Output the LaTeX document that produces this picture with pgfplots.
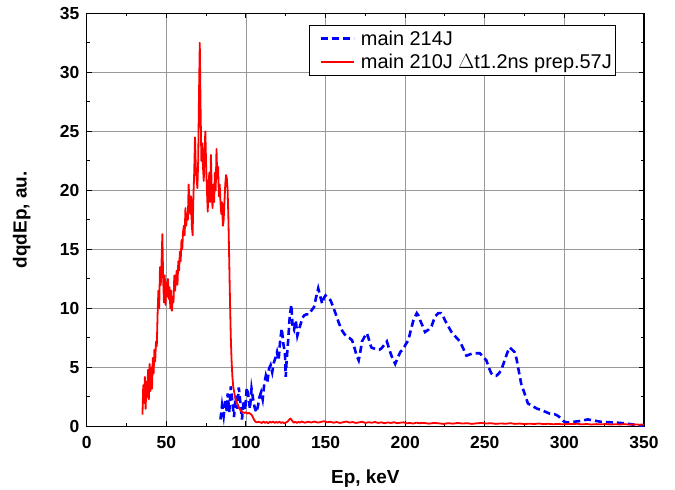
\documentclass[border=0pt]{standalone}
\usepackage{pgfplots}
\pgfplotsset{compat=1.18}
\usepackage{fontspec}
\setmainfont{Liberation Sans}
\begin{document}
\begin{tikzpicture}
\useasboundingbox (-86.7bp,-62.7bp) rectangle (588bp,426.3bp);
\begin{axis}[
 at={(0,0)}, anchor=south west,
 scale only axis, width=557bp, height=413bp,
 xmin=0, xmax=350, ymin=0, ymax=35,
 xtick={0,50,...,350}, ytick={0,5,...,35},
 minor x tick num=1, minor y tick num=1,
 tick align=inside, major tick length=5bp, minor tick length=3bp,
 xmajorgrids, ymajorgrids,
 major grid style={black!40, line width=0.8bp},
 axis line style={line width=1.5bp},
 every tick/.style={black, line width=1bp},
 /pgf/number format/assume math mode=true,
 xticklabel={\textbf{\pgfmathprintnumber{\tick}}},
 yticklabel={\textbf{\pgfmathprintnumber{\tick}}},
 tick label style={font=\fontsize{17.5}{19}\selectfont\bfseries},
 xticklabel style={yshift=-6bp},
 yticklabel style={xshift=-4bp},
 xlabel={Ep, keV}, ylabel={dqdEp, au.},
 label style={font=\fontsize{19}{21}\selectfont\bfseries},
 xlabel style={at={(axis description cs:0.5,-0.138)}, anchor=base},
 ylabel style={at={(axis description cs:-0.1167,0.5)}, anchor=center},
 legend cell align=left,
 legend style={at={(0.9503,0.971)}, anchor=north east, draw=black, line width=1bp,
   font=\fontsize{20}{22}\selectfont, row sep=3.5bp, inner xsep=2bp, inner ysep=3bp},
 legend image code/.code={\path (-8bp,0bp); \draw[#1] (0bp,0bp) -- (33bp,0bp); \path (37bp,0bp);},
]
\addlegendimage{blue, line width=2.6bp, dash pattern=on 7bp off 4bp}
\addlegendentry{main 214J}
\addlegendimage{red, line width=1.8bp}
\addlegendentry{main 210J $\Delta$t1.2ns prep.57J}
\addplot[forget plot, blue, line width=2.6bp, dash pattern=on 7bp off 4bp] coordinates {
(84,0.6)(85,1.8)(86,0.9)(87,2.2)(88,1.3)(88.5,2.8)(89.5,1.2)(90.5,3.4)(91.5,2.0)(92.5,0.8)
(93.5,2.6)(94.5,1.5)(95.5,3.3)(96.5,2.0)(97.5,0.6)(98.5,2.2)(99.5,1.4)(100.5,3.3)(101.5,2.6)
(102.5,1.5)(103.5,3.2)(104.5,2.3)(105.5,1.6)(106.5,1.2)(107.5,1.7)(108.5,2.5)(109.5,2.9)
(110.5,2.3)(111.5,3.6)(112.5,4.3)(113.5,3.8)(114.5,4.9)(115.5,5.2)(116.5,4.6)(117.5,5.4)
(118.5,5.8)(119.5,6.3)(120.5,5.6)(121.5,7.3)(122.5,8.3)(123.5,7.0)(124.5,6.2)(125.0,4.2)
(125.5,5.5)(126.5,7.3)(127.5,9.3)(128.5,10.3)(129.3,8.5)(130.2,8.2)(131.3,9.0)(132.3,7.7)
(133.5,8.3)(134.4,8.7)(135.5,9.2)(136.5,9.4)(138,9.5)(139.6,9.5)(141,9.8)(142.7,10.1)
(144,10.9)(145.4,11.7)(146.7,11.0)(147.9,10.4)(149,10.9)(150,11.1)(151.5,10.9)(153.1,10.7)
(154.6,10.2)(156.2,9.6)(158,8.9)(160,8.2)(162,7.8)(163.5,7.6)(165,7.5)(166.7,7.3)(168.3,6.6)
(169.5,6.0)(170.8,5.6)(171.8,6.3)(172.9,7.2)(174.5,7.6)(176,7.9)(177.4,7.3)(178.7,6.7)
(180.5,6.6)(182.3,6.5)(183.7,6.5)(185,6.6)(186.8,6.9)(188.5,7.2)(190.6,6.3)(192.2,5.7)
(193.75,5.3)(195.3,5.8)(196.9,6.3)(199,6.6)(200.5,7.0)(202,7.3)(203.6,8.2)(205.2,9.0)
(207.3,9.6)(208.3,9.4)(209.4,9.0)(211,8.5)(212.5,8.0)(214.6,8.2)(216.6,8.5)(218.7,9.3)
(220.8,9.6)(222.5,9.6)(224,9.3)(225,9.0)(227,8.5)(229.1,8.0)(231.7,7.6)(234.4,7.2)
(236.5,6.6)(238.5,6.0)(240.5,6.1)(242.7,6.2)(244.8,6.2)(246.9,6.2)(249,5.9)(251,5.6)
(252.5,5.0)(254.1,4.5)(255.7,4.3)(257.3,4.3)(258.9,4.5)(260.4,4.8)(262.5,5.6)(264,6.2)
(265.6,6.7)(267.2,6.5)(268.7,6.3)(270,5.7)(270.8,5.1)(272.9,3.6)(275,2.8)(277.1,1.95)
(280.2,1.7)(283,1.5)(285.4,1.4)(288,1.25)(290.6,1.1)(293.75,1.05)(296,0.9)(298.3,0.6)
(300,0.4)(302,0.34)(306,0.4)(310.4,0.47)(314.6,0.6)(318.7,0.5)(322.9,0.4)(329.2,0.35)
(335.4,0.3)(341.7,0.2)(345.8,0.1)(350,0.05)
};
\addplot[forget plot, red, line width=1.8bp, line join=round] coordinates {
(35.0,1.0)(35.5,3.5)(36.0,2.0)(36.5,4.2)(37.0,1.5)(37.5,3.8)(38.0,2.5)(38.5,4.8)(39.0,2.3)
(39.5,5.3)(40.0,3.0)(40.5,5.0)(41.0,3.2)(41.5,5.8)(42.0,4.5)(42.5,6.5)(43.0,5.5)(43.5,7.2)
(44.0,6.8)(44.5,9.5)(45.0,11.5)(45.5,10.0)(46.0,13.5)(46.5,12.0)(47.0,14.0)(47.5,16.3)
(48.0,12.5)(48.5,10.5)(49.0,12.8)(49.5,10.3)(50.0,12.2)(50.5,11.0)(51.0,12.5)(51.5,10.8)
(52.0,11.8)(52.5,10.0)(53.0,11.5)(53.5,9.8)(54.0,11.0)(54.5,10.5)(55.0,12.8)(55.5,11.5)
(56.0,12.5)(56.5,13.2)(57.0,12.0)(57.5,14.0)(58.0,13.2)(58.5,14.8)(59.0,14.0)(59.5,15.8)
(60.0,15.0)(60.5,16.5)(61.0,17.0)(61.5,16.2)(62.0,18.5)(62.5,17.0)(63.0,18.0)(63.5,17.5)
(64.0,20.5)(64.5,19.0)(65.0,18.0)(65.5,19.5)(66.0,17.0)(66.5,16.2)(67.0,19.5)(67.5,21.5)
(68.0,24.5)(68.5,22.0)(69.0,21.0)(69.5,20.2)(70.0,22.5)(70.5,28.0)(71.0,32.5)(71.5,27.0)
(72.0,22.5)(72.5,24.0)(73.0,22.0)(73.5,20.8)(74.0,23.5)(74.5,25.0)(75.0,22.0)(75.5,20.0)
(76.0,18.2)(76.5,20.5)(77.0,21.5)(77.5,19.0)(78.0,23.0)(78.5,20.0)(79.0,18.5)(79.5,20.5)
(80.0,19.0)(80.5,21.5)(81.0,20.0)(81.5,23.5)(82.0,21.0)(82.5,22.0)(83.0,19.5)(83.5,20.5)
(84.0,19.0)(84.5,18.0)(85.0,19.0)(85.5,17.0)(86.0,17.5)(86.5,19.0)(87.0,20.5)(87.5,21.3)
(88.0,21.0)(88.5,20.0)(89.0,17.5)(89.5,14.0)(90.0,10.5)(90.5,7.5)(91.0,5.5)(91.5,4.2)
(92.0,3.4)(93.0,2.6)(94.0,2.1)(95.0,1.8)(96.0,1.5)(97.0,1.3)(98.0,1.2)(99.0,1.15)(100.0,1.2)
(101.0,1.1)(102.0,1.15)(103.0,1.05)(104.0,0.9)(105.0,0.6)(106.0,0.4)(107.0,0.35)(108.0,0.4)
(110,0.3)(111,0.42)(112,0.3)(113,0.38)(114,0.28)(115,0.4)(116,0.33)(117,0.42)(118,0.3)
(119,0.38)(120,0.32)(121,0.4)(122,0.3)(123,0.36)(124,0.28)(125,0.33)(126,0.4)(127,0.55)
(128,0.68)(129,0.5)(130,0.32)(131,0.4)(132,0.3)(133,0.38)(134,0.33)(135,0.42)(137,0.32)
(139,0.4)(141,0.34)(143,0.42)(145,0.33)(147,0.38)(149,0.45)(151,0.35)(153,0.4)(155,0.32)
(157,0.38)(159,0.3)(161,0.36)(163,0.42)(165,0.33)(167,0.38)(169,0.3)(171,0.35)(173,0.4)
(175,0.3)(177,0.36)(179,0.32)(181,0.38)(183,0.3)(185,0.35)(187,0.28)(189,0.34)(191,0.3)
(193,0.36)(195,0.28)(197,0.32)(199,0.35)(201,0.27)(203,0.3)(205,0.25)(207,0.32)(209,0.28)
(212,0.3)(215,0.24)(218,0.3)(221,0.27)(224,0.22)(227,0.28)(230,0.24)(233,0.3)(236,0.25)
(239,0.28)(242,0.22)(245,0.27)(248,0.3)(251,0.25)(254,0.28)(257,0.22)(260,0.26)(263,0.23)
(266,0.28)(269,0.22)(272,0.25)(275,0.2)(278,0.24)(281,0.21)(284,0.25)(287,0.2)(290,0.23)
(293,0.19)(296,0.22)(299,0.18)(302,0.22)(305,0.2)(308,0.23)(311,0.18)(314,0.21)(317,0.17)
(320,0.2)(323,0.18)(326,0.21)(329,0.16)(332,0.19)(335,0.17)(338,0.2)(341,0.16)(344,0.18)
(347,0.15)(350,0.17)
};
\end{axis}
\end{tikzpicture}
\end{document}
